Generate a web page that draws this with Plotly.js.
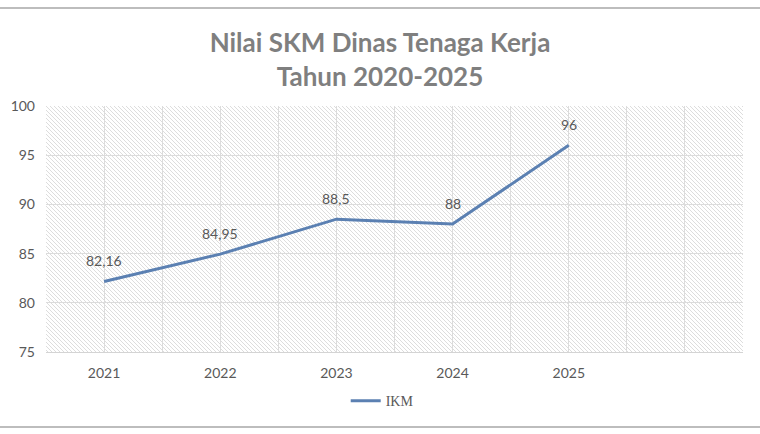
<!DOCTYPE html>
<html>
<head>
<meta charset="utf-8">
<script src="https://cdn.plot.ly/plotly-3.0.1.min.js"></script>
<style>
html,body{margin:0;padding:0;background:#fff;}
#wrap{position:relative;width:760px;height:434px;}
#hatch{position:absolute;left:46px;top:106px;width:697px;height:246px;background-color:#ffffff;
  background-image:url("data:image/svg+xml;utf8,<svg xmlns='http://www.w3.org/2000/svg' width='4' height='4'><path d='M-1,-1 L5,5 M3,-1 L5,1 M-1,3 L1,5' stroke='%23dddddd' stroke-width='1'/></svg>");
  background-repeat:repeat;background-size:4px 4px;}
#chart{position:absolute;left:0;top:0;width:760px;height:434px;}
</style>
</head>
<body>
<div id="wrap">
<div id="hatch"></div>
<div id="chart"></div>
</div>
<script>
// ---- data ----
var categories = ['2021', '2022', '2023', '2024', '2025'];
var ikmValues = [82.16, 84.95, 88.5, 88, 96];
var valueLabels = ['82,16', '84,95', '88,5', '88', '96'];
var seriesName = 'IKM';
var titleText = 'Nilai SKM Dinas Tenaga Kerja<br>Tahun 2020-2025';
var yTickVals = [75, 80, 85, 90, 95, 100];

// ---- build ----
var xIdx = categories.map(function (c, i) { return i; });
var nSlots = categories.length + 1; // one empty slot on the right
var gridVals = [], gridText = [];
for (var k = -1; k <= 2 * nSlots - 1; k++) {
  var v = k / 2;
  gridVals.push(v);
  gridText.push(Number.isInteger(v) && v >= 0 && v < categories.length ? categories[v] : '');
}

var trace = {
  type: 'scatter',
  mode: 'lines',
  x: xIdx,
  y: ikmValues,
  name: seriesName,
  line: {color: '#5b80b2', width: 3},
  hoverinfo: 'skip'
};

var annotations = xIdx.map(function (x, i) {
  return {
    x: x, y: ikmValues[i], xref: 'x', yref: 'y',
    text: valueLabels[i], showarrow: false, yshift: 21,
    font: {family: 'Lato, sans-serif', size: 14, color: '#595959'}
  };
});

var layout = {
  width: 760, height: 434,
  margin: {l: 46, r: 17, t: 106, b: 82},
  paper_bgcolor: 'rgba(0,0,0,0)',
  plot_bgcolor: 'rgba(0,0,0,0)',
  title: {
    text: titleText,
    font: {family: 'Lato, sans-serif', size: 26, color: '#7f7f7f', weight: 'bold'},
    x: 0.5, xref: 'container', xanchor: 'center',
    y: 1 - 52 / 434, yref: 'container', yanchor: 'middle'
  },
  xaxis: {
    type: 'linear',
    range: [-0.5, nSlots - 0.5],
    tickmode: 'array', tickvals: gridVals, ticktext: gridText,
    showgrid: true, gridcolor: '#dcdcdc', gridwidth: 1,
    zeroline: false, showline: true, linecolor: '#d4d4d4', linewidth: 1,
    ticks: '', ticklabelstandoff: 8,
    tickfont: {family: 'Lato, sans-serif', size: 14, color: '#595959'},
    fixedrange: true
  },
  yaxis: {
    range: [75, 100],
    tickmode: 'array', tickvals: yTickVals,
    showgrid: true, gridcolor: '#dcdcdc', gridwidth: 1,
    zeroline: false, showline: false,
    ticks: '', ticklabelstandoff: 10,
    tickfont: {family: 'Lato, sans-serif', size: 14, color: '#595959'},
    fixedrange: true
  },
  showlegend: true,
  legend: {
    orientation: 'h', x: 0.43, xanchor: 'left', y: -0.2, yanchor: 'middle',
    font: {family: '"Liberation Serif", serif', size: 14, color: '#595959'},
    bgcolor: 'rgba(0,0,0,0)'
  },
  annotations: annotations,
  shapes: [
    {type: 'line', xref: 'paper', yref: 'paper', x0: -0.07, x1: 1.03, y0: (352 - 8) / 246, y1: (352 - 8) / 246,
     line: {color: '#bdbdbd', width: 2}},
    {type: 'line', xref: 'paper', yref: 'paper', x0: -0.07, x1: 1.03, y0: (352 - 427) / 246, y1: (352 - 427) / 246,
     line: {color: '#bdbdbd', width: 2}}
  ]
};

Plotly.newPlot('chart', [trace], layout, {displayModeBar: false, staticPlot: true});
</script>
</body>
</html>
